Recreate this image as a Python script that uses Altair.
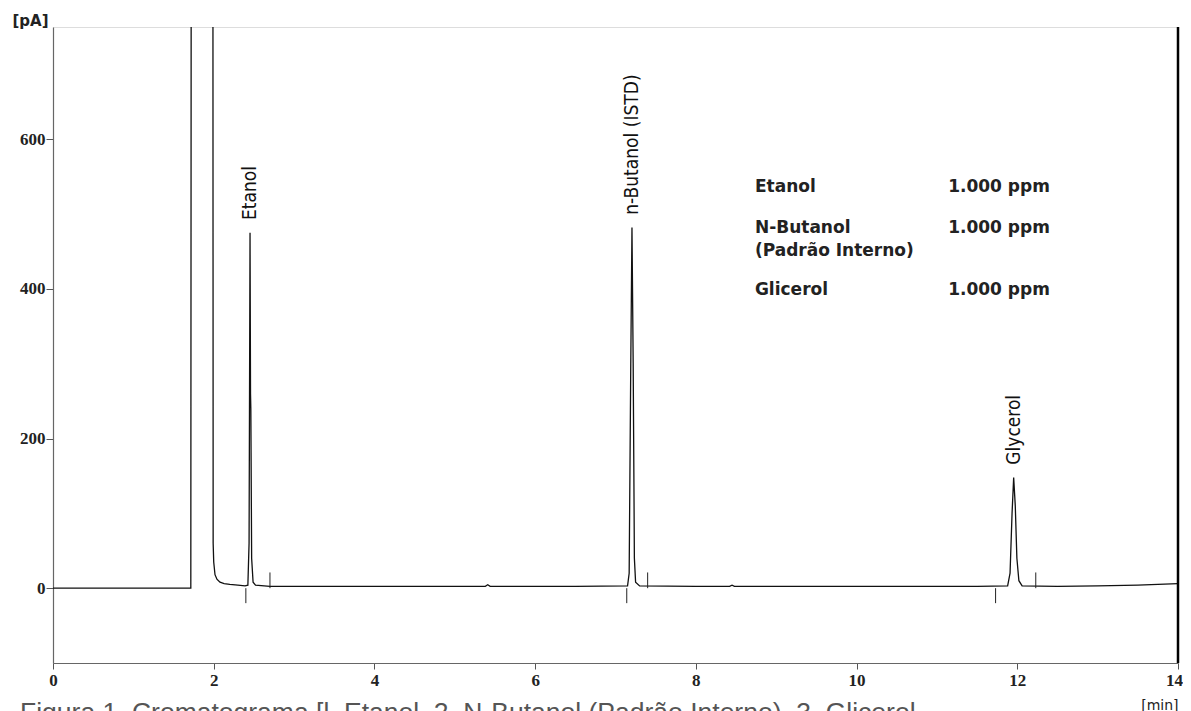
import altair as alt
import pandas as pd

# --- chromatogram trace (time in min, signal in pA) ---
time = [0.0, 1.715, 1.72, 1.99, 1.993, 2.0, 2.016, 2.04, 2.078, 2.13, 2.2, 2.3, 2.39,
        2.425, 2.44, 2.452, 2.458, 2.462, 2.472, 2.49, 2.52, 2.7, 3.5, 4.5,
        5.38, 5.41, 5.44, 6.5, 7.15, 7.17, 7.19, 7.205, 7.22, 7.235, 7.25, 7.3,
        8.0, 8.42, 8.45, 8.48, 9.5, 10.5, 11.5, 11.88, 11.91, 11.935, 11.955,
        11.975, 11.995, 12.02, 12.06, 12.5, 13.0, 13.5, 14.0]
signal = [0, 0, 900, 900, 60, 35, 18, 12, 8, 6, 5, 4, 3,
          4, 60, 475, 260, 240, 40, 8, 4, 2.5, 2.5, 2.5,
          2.5, 4.5, 2.5, 2.5, 3, 20, 300, 482, 300, 40, 8, 3,
          2.5, 2.5, 4, 2.5, 2.5, 2.5, 2.5, 3, 20, 100, 148,
          110, 40, 10, 3, 2.5, 3, 4, 6]

# integration start / end markers
mark_start = [2.40, 7.14, 11.73]
mark_end = [2.70, 7.40, 12.23]

# peak annotations
peak_names = ["Etanol", "n-Butanol (ISTD)", "Glycerol"]
peak_times = [2.452, 7.205, 11.955]
peak_heights = [475, 482, 148]

# concentration table
table_names = ["Etanol", "N-Butanol", "(Padrão Interno)", "Glicerol"]
table_conc = ["1.000 ppm", "1.000 ppm", "", "1.000 ppm"]
table_rows = [536, 482, 450, 399]

x_ticks = [0, 2, 4, 6, 8, 10, 12, 14]
y_ticks = [0, 200, 400, 600]

caption = "Figura 1. Cromatograma [l. Etanol, 2. N-Butanol (Padrão Interno), 3. Glicerol"

W, H = 1125, 636

xscale = alt.Scale(domain=[0, 14], nice=False, zero=False)
yscale = alt.Scale(domain=[-100, 750], nice=False, zero=False)

trace = pd.DataFrame({"t": time, "s": signal})

x_axis = alt.Axis(values=x_ticks, title="[min]", grid=False, tickSize=6, labelPadding=3,
                  labelFlush=False, labelOverlap=False, format="d",
                  labelOffset=alt.expr("datum.value == 14 ? -4 : 0"),
                  labelFont="Liberation Serif", labelFontWeight="bold", labelFontSize=17,
                  labelColor="#222", tickColor="#555", domainColor="#666", domainWidth=1.2,
                  titleX=W, titleY=46, titleAlign="right", titleBaseline="alphabetic",
                  titleFont="DejaVu Sans", titleFontSize=14, titleFontWeight="normal",
                  titleColor="#222")
y_axis = alt.Axis(values=y_ticks, title="[pA]", grid=False, tickSize=7, labelPadding=1,
                  format="d", labelFont="Liberation Serif", labelFontWeight="bold",
                  labelFontSize=17, labelColor="#222", tickColor="#555",
                  domainColor="#666", domainWidth=1.2,
                  titleAngle=0, titleX=-41, titleY=-7, titleAlign="left",
                  titleBaseline="middle", titleFont="DejaVu Sans", titleFontSize=15,
                  titleFontWeight="bold", titleColor="#222")

line = alt.Chart(trace).mark_line(color="#111", strokeWidth=1.3, clip=True).encode(
    x=alt.X("t:Q", scale=xscale, axis=x_axis),
    y=alt.Y("s:Q", scale=yscale, axis=y_axis),
)

starts = alt.Chart(pd.DataFrame({"t": mark_start})).transform_calculate(
    a="0", b="-20").mark_rule(color="#222", strokeWidth=1).encode(
    x=alt.X("t:Q", scale=xscale), y=alt.Y("a:Q", scale=yscale), y2="b:Q")
ends = alt.Chart(pd.DataFrame({"t": mark_end})).transform_calculate(
    a="0", b="21").mark_rule(color="#222", strokeWidth=1).encode(
    x=alt.X("t:Q", scale=xscale), y=alt.Y("a:Q", scale=yscale), y2="b:Q")

labels = alt.Chart(pd.DataFrame({"name": peak_names, "t": peak_times, "h": peak_heights})
                   ).transform_calculate(ly="datum.h + 17").mark_text(
    angle=270, align="left", baseline="middle", font="DejaVu Sans Condensed",
    fontSize=19, color="#111").encode(
    x=alt.X("t:Q", scale=xscale), y=alt.Y("ly:Q", scale=yscale), text="name:N")

tbl = pd.DataFrame({"name": table_names, "conc": table_conc, "r": table_rows})
tbl_names = alt.Chart(tbl).mark_text(align="left", baseline="middle", font="DejaVu Sans",
                                     fontWeight="bold", fontSize=17, color="#222").encode(
    x=alt.datum(8.735, scale=xscale), y=alt.Y("r:Q", scale=yscale), text="name:N")
tbl_conc = alt.Chart(tbl).mark_text(align="left", baseline="middle", font="DejaVu Sans",
                                    fontWeight="bold", fontSize=17, color="#222").encode(
    x=alt.datum(11.14, scale=xscale), y=alt.Y("r:Q", scale=yscale), text="conc:N")

right_border = alt.Chart(pd.DataFrame({"t": [14]})).mark_rule(
    color="#000", strokeWidth=2.5).encode(x=alt.X("t:Q", scale=xscale))

cap = alt.Chart(pd.DataFrame({"c": [caption]})).mark_text(
    align="left", baseline="alphabetic", font="Liberation Sans", fontSize=26.5,
    color="#555").encode(x=alt.value(-33), y=alt.value(694), text="c:N")

chart = alt.layer(line, starts, ends, labels, tbl_names, tbl_conc, right_border, cap).properties(
    width=W, height=H,
    autosize=alt.AutoSizeParams(type="none"),
    padding={"left": 45, "top": 19, "right": 5, "bottom": 48},
).configure_view(stroke="#222", strokeWidth=1.2).configure(background="white")

chart.save("out.html", embed_options={"renderer": "svg", "actions": False})
